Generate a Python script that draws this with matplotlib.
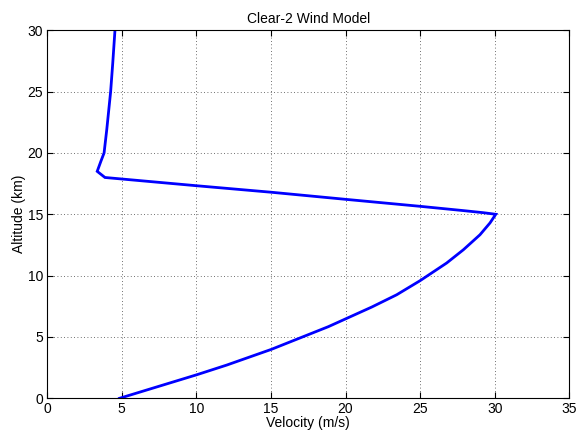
import numpy as np
import matplotlib.pyplot as plt

plt.rcParams['font.family'] = ['Liberation Sans', 'DejaVu Sans']

# wind speed profile (m/s) vs altitude (km)
vel_low = [4.85, 10.03, 12.04, 15.03, 18.85, 21.76, 23.43, 25.0,
           26.78, 27.9, 29.01, 29.68, 30.07]
alt_low = [0.0, 1.92, 2.71, 3.99, 5.84, 7.44, 8.44, 9.59,
           11.03, 12.11, 13.33, 14.29, 15.0]

vel_jet = [30.07, 29.24, 27.9, 25.0, 20.0, 15.0, 10.0, 3.88, 3.36]
alt_jet = [15.0, 15.13, 15.3, 15.65, 16.22, 16.8, 17.33, 18.0, 18.5]

vel_high = [3.36, 3.6, 3.82, 4.0, 4.26, 4.4, 4.55]
alt_high = [18.5, 19.3, 20.0, 21.9, 25.0, 27.3, 30.0]

vel = np.array(vel_low + vel_jet[1:] + vel_high[1:])
alt = np.array(alt_low + alt_jet[1:] + alt_high[1:])

fig = plt.figure(figsize=(5.79, 4.33), dpi=100)
ax = fig.add_axes([0.0813, 0.0801, 0.902, 0.850])

ax.plot(vel, alt, color=(0, 0, 1), lw=2.0, solid_joinstyle='miter')

ax.set_xlim(0, 35)
ax.set_ylim(0, 30)
ax.set_xticks(np.arange(0, 36, 5))
ax.set_yticks(np.arange(0, 31, 5))
ax.grid(True, linestyle=(0, (1, 3)), color='0.25', lw=0.6)
ax.tick_params(direction='in', top=True, right=True, labelsize=10, length=4, width=0.8, pad=3)
for s in ax.spines.values():
    s.set_linewidth(0.8)

ax.set_title('Clear-2 Wind Model', fontsize=10, pad=5)
ax.set_xlabel('Velocity (m/s)', fontsize=10, labelpad=0)
ax.set_ylabel('Altitude (km)', fontsize=10, labelpad=1)

fig.savefig('out.png', dpi=100)
